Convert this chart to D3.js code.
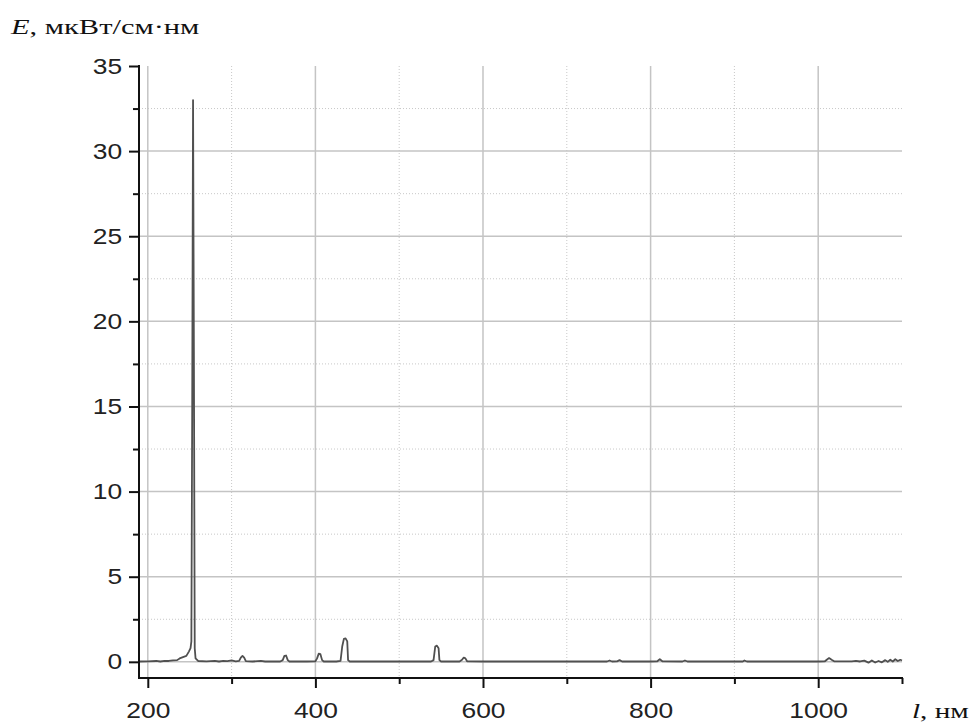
<!DOCTYPE html>
<html>
<head>
<meta charset="utf-8">
<script src="https://cdn.jsdelivr.net/npm/d3@7"></script>
<style>
  body { margin: 0; background: #fff; }
  .tick text { font-family: "Liberation Sans", Arial, sans-serif; font-size: 22px; fill: #222; }
</style>
</head>
<body>
<div id="chart"></div>
<script>
// spectrum, wavelength (nm) and irradiance (мкВт/см·нм)
var wavelength = [190, 200, 210, 215, 220, 225, 230, 235, 238, 242, 246, 249, 251, 252, 253, 254, 255, 256, 257, 260,
    270, 280, 285, 290, 295, 300, 305, 309, 311, 313, 315, 317, 325, 335, 340, 350, 358, 361, 363, 365,
    367, 369, 390, 400, 402, 404, 406, 408, 410, 425, 430, 432, 434, 436, 438, 439, 441, 480, 520, 538,
    541, 543, 545, 547, 548, 550, 572, 575, 577, 579, 581, 600, 700, 748, 751, 754, 760, 763, 766, 800,
    808, 811, 814, 838, 841, 844, 900, 910, 912, 915, 1000, 1008, 1011, 1013, 1016, 1019, 1040, 1045, 1050, 1055,
    1060, 1064, 1068, 1072, 1076, 1080, 1083, 1086, 1089, 1092, 1095, 1098, 1100];
var energy = [0.02, 0.03, 0.05, 0.02, 0.06, 0.05, 0.08, 0.1, 0.2, 0.28, 0.35, 0.6, 0.8, 1.2, 15.0, 33.0, 18.3, 0.8, 0.2, 0.05,
    0.03, 0.06, 0.02, 0.05, 0.04, 0.08, 0.03, 0.05, 0.25, 0.35, 0.25, 0.04, 0.02, 0.05, 0.02, 0.02, 0.02, 0.1, 0.35, 0.37,
    0.1, 0.02, 0.02, 0.03, 0.2, 0.48, 0.45, 0.1, 0.02, 0.02, 0.05, 0.9, 1.35, 1.38, 1.2, 0.1, 0.02, 0.02, 0.02, 0.02,
    0.1, 0.9, 0.95, 0.8, 0.1, 0.02, 0.02, 0.12, 0.25, 0.2, 0.03, 0.02, 0.02, 0.02, 0.08, 0.02, 0.03, 0.1, 0.02, 0.02,
    0.03, 0.15, 0.03, 0.02, 0.08, 0.02, 0.02, 0.02, 0.08, 0.02, 0.02, 0.03, 0.15, 0.22, 0.12, 0.03, 0.03, 0.06, 0.02, 0.07,
    -0.05, 0.08, -0.04, 0.05, -0.03, 0.1, 0.0, 0.12, 0.02, 0.15, 0.05, 0.12, 0.08];

var xMajor = [200, 400, 600, 800, 1000];
var xMinor = [300, 500, 700, 900, 1100];
var yMajor = [0, 5, 10, 15, 20, 25, 30, 35];
var yMinor = [2.5, 7.5, 12.5, 17.5, 22.5, 27.5, 32.5];

var width = 971, height = 722;
var pLeft = 139, pRight = 902, pTop = 66, pBottom = 678;

var svg = d3.select("#chart")
    .append("svg")
        .attr("width", width)
        .attr("height", height);

var x = d3.scaleLinear().domain([189.5, 1100]).range([pLeft, pRight]);
var y = d3.scaleLinear().domain([-0.95, 35]).range([pBottom, pTop]);

// grid
var grid = svg.append("g");
grid.selectAll(".vminor").data(xMinor.filter(function(d){ return d < 1100; }))
    .enter().append("line")
    .attr("x1", function(d){ return x(d); }).attr("x2", function(d){ return x(d); })
    .attr("y1", pTop).attr("y2", pBottom)
    .attr("stroke", "#c8c8c8").attr("stroke-width", 1).attr("stroke-dasharray", "1,2");
grid.selectAll(".hminor").data(yMinor)
    .enter().append("line")
    .attr("x1", pLeft).attr("x2", pRight)
    .attr("y1", function(d){ return y(d); }).attr("y2", function(d){ return y(d); })
    .attr("stroke", "#c8c8c8").attr("stroke-width", 1).attr("stroke-dasharray", "1,2");
grid.selectAll(".vmajor").data(xMajor)
    .enter().append("line")
    .attr("x1", function(d){ return x(d); }).attr("x2", function(d){ return x(d); })
    .attr("y1", pTop).attr("y2", pBottom)
    .attr("stroke", "#c4c4c4").attr("stroke-width", 1.5);
grid.selectAll(".hmajor").data(yMajor.filter(function(d){ return d < 35; }))
    .enter().append("line")
    .attr("x1", pLeft).attr("x2", pRight)
    .attr("y1", function(d){ return y(d); }).attr("y2", function(d){ return y(d); })
    .attr("stroke", "#c4c4c4").attr("stroke-width", 1.5);

// spectrum line
var pts = wavelength.map(function(d, i){ return [d, energy[i]]; });
svg.append("path")
    .datum(pts)
    .attr("fill", "none")
    .attr("stroke", "#505050")
    .attr("stroke-width", 1.8)
    .attr("stroke-linejoin", "round")
    .attr("d", d3.line()
        .x(function(d){ return x(d[0]); })
        .y(function(d){ return y(d[1]); }));

// axes
svg.append("g")
    .attr("class", "xaxis")
    .attr("transform", "translate(0," + pBottom + ")")
    .call(d3.axisBottom(x).tickValues(xMajor).tickSize(10).tickSizeOuter(0).tickPadding(14).tickFormat(d3.format("d")));
svg.append("g")
    .attr("class", "xaxis")
    .attr("transform", "translate(0," + pBottom + ")")
    .call(d3.axisBottom(x).tickValues(xMinor).tickSize(6).tickSizeOuter(0).tickFormat(""));

svg.append("g")
    .attr("class", "yaxis")
    .attr("transform", "translate(" + pLeft + ",0)")
    .call(d3.axisLeft(y).tickValues(yMajor).tickSize(10).tickSizeOuter(0).tickPadding(4));
svg.append("g")
    .attr("class", "yaxis")
    .attr("transform", "translate(" + pLeft + ",0)")
    .call(d3.axisLeft(y).tickValues(yMinor).tickSize(6).tickSizeOuter(0).tickFormat(""));

svg.selectAll(".tick line").attr("stroke", "#111").attr("stroke-width", 2);
svg.selectAll(".tick text").attr("transform", "scale(1.2,1)");
svg.selectAll(".xaxis .domain").attr("stroke", "#111").attr("stroke-width", 2)
    .attr("d", "M" + (pLeft - 1) + ",0H" + (pRight + 1));
svg.selectAll(".yaxis .domain").attr("stroke", "#111").attr("stroke-width", 2)
    .attr("d", "M0," + (pTop - 1) + "V" + (pBottom + 1));

// axis titles, stretched to the width they have in the picture
function title(parts, x0, y0, w){
    var t = svg.append("text")
        .attr("font-family", "'Liberation Serif', 'Times New Roman', serif")
        .attr("font-size", "22px").attr("fill", "#111");
    parts.forEach(function(p){
        t.append("tspan").attr("font-style", p[1] ? "italic" : "normal").text(p[0]);
    });
    var bw = t.node().getBBox().width;
    t.attr("transform", "translate(" + x0 + "," + y0 + ") scale(" + (w / bw) + ",1)");
}
title([["E", true], [", мкВт/см·нм", false]], 11, 34, 190);
title([["l", true], [", нм", false]], 912, 718, 57);
</script>
</body>
</html>
